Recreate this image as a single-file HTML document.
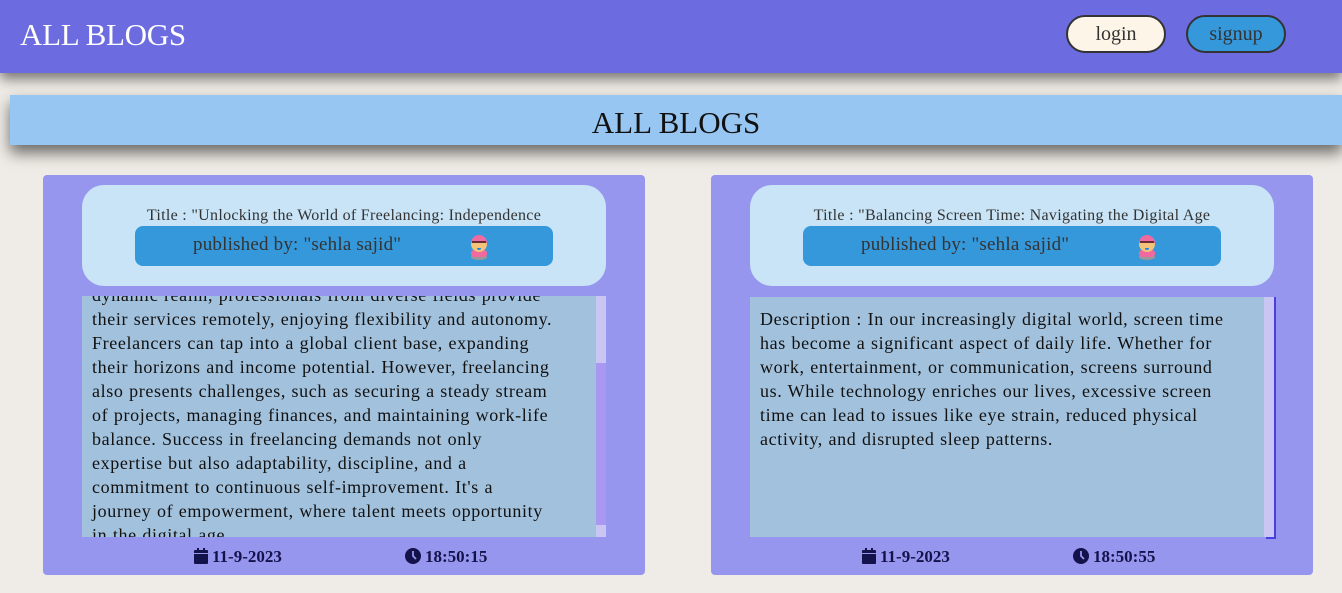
<!DOCTYPE html>
<html><head><style>
body{margin:0;width:1342px;height:593px;background:#efebe6;font-family:"Liberation Serif",serif;position:relative;overflow:hidden}
.hdr{position:absolute;left:0;top:0;width:1342px;height:73px;background:#6c6ce0;box-shadow:0 6px 12px rgba(0,0,0,.5)}
.hdr h1{position:absolute;left:20px;top:17px;margin:0;font-weight:normal;font-size:31px;color:#fff;letter-spacing:-0.3px}
.btn{position:absolute;top:15px;border:2px solid #333;border-radius:20px;font-size:20px;color:#333;text-align:center;line-height:34px;box-sizing:border-box;height:38px}
.ban{position:absolute;left:10px;top:95px;width:1332px;height:50px;background:#98c6f2;box-shadow:0 8px 14px rgba(0,0,0,.55);text-align:center;font-size:31px;line-height:56px;color:#111}
.card{position:absolute;top:175px;width:602px;height:400px;background:#9696ee;border-radius:4px}
.tb{position:absolute;left:39px;top:10px;width:524px;height:101px;background:#c8e4f6;border-radius:22px}
.tt{position:absolute;left:0;width:100%;top:22px;text-align:center;font-size:16px;color:#333;letter-spacing:0.3px}
.pb{position:absolute;left:53px;top:41px;width:418px;height:40px;background:#3598db;border-radius:8px}
.pb span{position:absolute;left:58px;top:8px;font-size:19px;color:#333;letter-spacing:0.2px}
.av{position:absolute;left:330px;top:6px}
.desc{position:absolute;left:39px;top:121px;width:524px;height:241px;background:#a2c1dc;overflow:hidden;font-size:18px;line-height:24px;color:#111;letter-spacing:0.62px;word-spacing:0.5px}
.desc p{margin:0;padding:0 10px;width:494px;box-sizing:border-box}
.foot{position:absolute;top:372px;font-weight:bold;font-size:17px;color:#14124a}
.foot svg{vertical-align:-2px;margin-right:4px}
</style></head><body>
<div class="hdr"><h1>ALL BLOGS</h1>
<div class="btn" style="left:1066px;width:100px;background:#fdf6e8">login</div>
<div class="btn" style="left:1186px;width:100px;background:#3598db">signup</div></div>
<div class="ban">ALL BLOGS</div>

<div class="card" style="left:43px">
<div class="tb"><div class="tt">Title : "Unlocking the World of Freelancing: Independence</div>
<div class="pb"><span>published by: "sehla sajid"</span>
<svg class="av" width="28" height="28" viewBox="0 0 28 28"><ellipse cx="14" cy="25" rx="8" ry="3" fill="#999"/><rect x="6" y="18" width="16" height="7" rx="3" fill="#f06aa0"/><circle cx="14" cy="12" r="8" fill="#f5c27a"/><path d="M6 11a8 8 0 0 1 16 0z" fill="#f06aa0"/><rect x="7" y="9" width="14" height="2" fill="#6b2d3a"/><path d="M12 16h4a2 2 0 0 1-4 0z" fill="#1e88e5"/></svg></div></div>
<div class="desc"><p style="margin-top:-13px;white-space:nowrap">dynamic realm, professionals from diverse fields provide<br>their services remotely, enjoying flexibility and autonomy.<br>Freelancers can tap into a global client base, expanding<br>their horizons and income potential. However, freelancing<br>also presents challenges, such as securing a steady stream<br>of projects, managing finances, and maintaining work-life<br>balance. Success in freelancing demands not only<br>expertise but also adaptability, discipline, and a<br>commitment to continuous self-improvement. It's a<br>journey of empowerment, where talent meets opportunity<br>in the digital age.</p>
<div style="position:absolute;right:0;top:0;width:10px;height:241px;background:#c9c6f4"><div style="position:absolute;top:67px;width:10px;height:162px;background:#a898f2"></div></div></div>
<div class="foot" style="left:151px"><svg width="14" height="16" viewBox="0 0 14 16"><rect x="0" y="2" width="14" height="14" rx="1" fill="#14124a"/><rect x="3" y="0" width="2" height="4" fill="#14124a"/><rect x="9" y="0" width="2" height="4" fill="#14124a"/><rect x="0" y="5" width="14" height="1" fill="#9696ee"/></svg>11-9-2023</div>
<div class="foot" style="left:362px"><svg width="16" height="16" viewBox="0 0 16 16"><circle cx="8" cy="8" r="8" fill="#14124a"/><path d="M8 3v5l3 3" stroke="#9696ee" stroke-width="1.8" fill="none"/></svg>18:50:15</div>
</div>

<div class="card" style="left:711px">
<div class="tb"><div class="tt">Title : "Balancing Screen Time: Navigating the Digital Age</div>
<div class="pb"><span>published by: "sehla sajid"</span>
<svg class="av" width="28" height="28" viewBox="0 0 28 28"><ellipse cx="14" cy="25" rx="8" ry="3" fill="#999"/><rect x="6" y="18" width="16" height="7" rx="3" fill="#f06aa0"/><circle cx="14" cy="12" r="8" fill="#f5c27a"/><path d="M6 11a8 8 0 0 1 16 0z" fill="#f06aa0"/><rect x="7" y="9" width="14" height="2" fill="#6b2d3a"/><path d="M12 16h4a2 2 0 0 1-4 0z" fill="#1e88e5"/></svg></div></div>
<div class="desc" style="top:122px;width:525px;height:240px"><p style="margin-top:10px">Description : In our increasingly digital world, screen time has become a significant aspect of daily life. Whether for work, entertainment, or communication, screens surround us. While technology enriches our lives, excessive screen time can lead to issues like eye strain, reduced physical activity, and disrupted sleep patterns.</p>
<div style="position:absolute;left:514px;top:0;width:11px;height:240px;background:#c9c6f4"></div></div>
<div style="position:absolute;left:563px;top:122px;width:2px;height:242px;background:#4a40e0"></div>
<div style="position:absolute;left:555px;top:362px;width:10px;height:2px;background:#4a40e0"></div>
<div class="foot" style="left:151px"><svg width="14" height="16" viewBox="0 0 14 16"><rect x="0" y="2" width="14" height="14" rx="1" fill="#14124a"/><rect x="3" y="0" width="2" height="4" fill="#14124a"/><rect x="9" y="0" width="2" height="4" fill="#14124a"/><rect x="0" y="5" width="14" height="1" fill="#9696ee"/></svg>11-9-2023</div>
<div class="foot" style="left:362px"><svg width="16" height="16" viewBox="0 0 16 16"><circle cx="8" cy="8" r="8" fill="#14124a"/><path d="M8 3v5l3 3" stroke="#9696ee" stroke-width="1.8" fill="none"/></svg>18:50:55</div>
</div>
</body></html>
